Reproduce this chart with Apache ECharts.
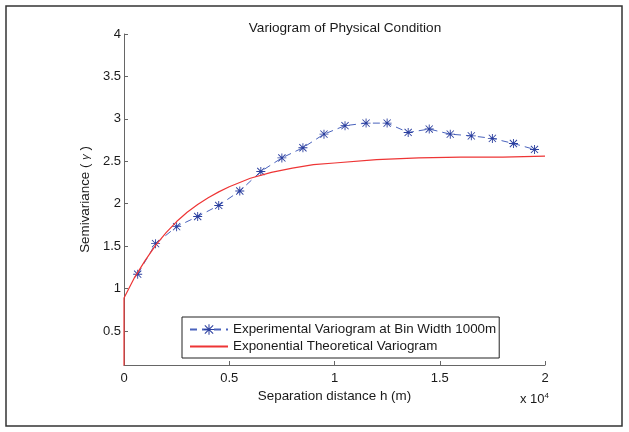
<!DOCTYPE html>
<html><head><meta charset="utf-8">
<script src="https://cdn.jsdelivr.net/npm/echarts@6/dist/echarts.min.js"></script>
<style>html,body{margin:0;padding:0;background:#fff}#c{width:629px;height:432px}</style>
</head><body><div id="c"></div>
<script>
const titleText = 'Variogram of Physical Condition';
const expName = 'Experimental Variogram at Bin Width 1000m';
const thName = 'Exponential Theoretical Variogram';
const expX = [650,1500,2500,3500,4500,5500,6500,7500,8500,9500,10500,11500,12500,13500,14500,15500,16500,17500,18500,19500];
const expY = [1.17,1.53,1.73,1.85,1.98,2.15,2.38,2.54,2.66,2.82,2.92,2.95,2.95,2.84,2.88,2.82,2.80,2.77,2.71,2.64];
const thX = [0,0,250,500,750,1000,1500,2000,2500,3000,3500,4000,4500,5000,6000,7000,8000,9000,10000,12000,14000,16000,18000,20000];
const thY = [0,0.89,1.01,1.13,1.23,1.33,1.51,1.66,1.79,1.90,1.99,2.07,2.14,2.20,2.30,2.37,2.42,2.46,2.48,2.52,2.54,2.55,2.55,2.56];
const yTicks = [0.5,1,1.5,2,2.5,3,3.5,4];

const FONT = 'Liberation Sans, Arial, sans-serif';
const star = 'path://M9 0L11 0L11 20L9 20Z M0 9L20 9L20 11L0 11Z M2.7 1.3L18.7 17.3L17.3 18.7L1.3 2.7Z M17.3 1.3L18.7 2.7L2.7 18.7L1.3 17.3Z';

const chart = echarts.init(document.getElementById('c'));
chart.setOption({
  animation: false,
  backgroundColor: '#fff',
  textStyle: {fontFamily: FONT},
  title: {text: titleText, left: 340, top: 16, textAlign: 'center',
    textStyle: {fontFamily: FONT, fontSize: 13.6, fontWeight: 'normal', color: '#1a1a1a'}},
  grid: {left: 124, right: 84, top: 34, bottom: 67, containLabel: false},
  legend: {
    orient: 'vertical', left: 182, top: 317,
    backgroundColor: '#fff', borderColor: '#222', borderWidth: 1,
    padding: [6, 3, 5, 7], itemGap: 4, itemWidth: 38, itemHeight: 13,
    textStyle: {fontFamily: FONT, fontSize: 13.4, color: '#1a1a1a'},
    data: [
      {name: expName},
      {name: thName, itemStyle: {color: 'rgba(0,0,0,0)', borderColor: 'rgba(0,0,0,0)', borderWidth: 0, opacity: 0}}
    ]
  },
  xAxis: {
    type: 'value', min: 0, max: 20000, interval: 5000,
    name: 'Separation distance h (m)', nameLocation: 'middle', nameGap: 21,
    nameTextStyle: {fontFamily: FONT, fontSize: 13.4, color: '#1a1a1a'},
    axisLine: {lineStyle: {color: '#666', width: 1}},
    axisTick: {inside: true, length: 4, lineStyle: {color: '#666'}},
    axisLabel: {margin: 7, fontSize: 13, color: '#1a1a1a', fontFamily: FONT,
      formatter: v => String(v / 10000)},
    splitLine: {show: false}
  },
  yAxis: {
    type: 'value', min: 0.1, max: 4,
    name: 'Semivariance ( {g|γ} )', nameLocation: 'middle', nameGap: 22, nameRotate: 90,
    nameTextStyle: {fontFamily: FONT, fontSize: 13.4, color: '#1a1a1a',
      rich: {g: {fontStyle: 'italic', fontSize: 11, fontFamily: FONT, color: '#1a1a1a'}}},
    axisLine: {show: true, lineStyle: {color: '#666', width: 1}},
    axisTick: {show: true, inside: true, length: 4, lineStyle: {color: '#666'}, customValues: yTicks},
    axisLabel: {margin: 3, fontSize: 13, color: '#1a1a1a', fontFamily: FONT, customValues: yTicks},
    splitLine: {show: false}
  },
  series: [
    {
      name: expName, type: 'line',
      data: expX.map((x, i) => [x, expY[i]]),
      symbol: star, symbolSize: 9,
      lineStyle: {color: '#4a63bd', width: 1, type: [7, 5]},
      itemStyle: {color: '#2b3f9f'},
      z: 2
    },
    {
      name: thName, type: 'line',
      data: thX.map((x, i) => [x, thY[i]]),
      showSymbol: false,
      lineStyle: {color: '#ee3535', width: 1.2},
      itemStyle: {color: '#ee3535'},
      clip: true, z: 3
    }
  ],
  graphic: [
    {type: 'rect', shape: {x: 6, y: 6, width: 616, height: 420},
      style: {fill: 'none', stroke: '#333', lineWidth: 1.5}, z: 10, silent: true},
    {type: 'text', left: 520, top: 392,
      style: {text: 'x 10{s|4}', font: '13px ' + FONT, fill: '#1a1a1a',
        rich: {s: {fontSize: 8, verticalAlign: 'top', padding: [0, 0, 6, 0], fill: '#1a1a1a', fontFamily: FONT}}}}
  ]
});
</script></body></html>
